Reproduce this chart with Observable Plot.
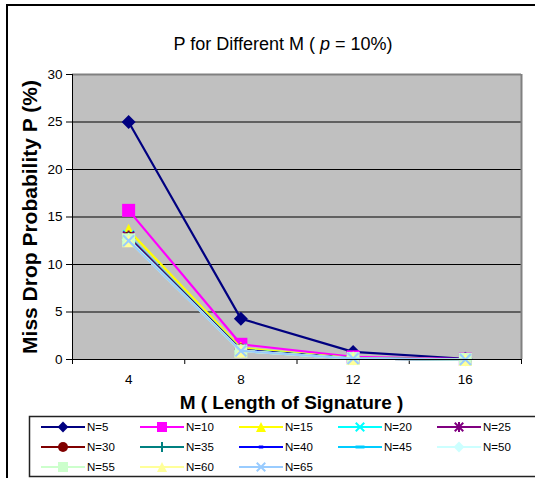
<!DOCTYPE html>
<html>
<head>
<meta charset="utf-8">
<script src="https://cdn.jsdelivr.net/npm/d3@7"></script>
<script src="https://cdn.jsdelivr.net/npm/@observablehq/plot@0.6"></script>
<style>
  html, body { margin: 0; padding: 0; background: #fff; }
  #wrap { position: relative; width: 535px; height: 478px; overflow: hidden; font-family: Arial, "Liberation Sans", sans-serif; }
  #border { position: absolute; left: 6px; top: 4px; width: 700px; height: 700px; border-left: 2px solid #000; border-top: 2px solid #000; }
  #title { position: absolute; left: 0; top: 34px; width: 566px; text-align: center; font-size: 18px; line-height: 20px; color: #000; }
  #chart { position: absolute; left: 0; top: 0; }
</style>
</head>
<body>
<div id="wrap">
  <div id="chart"></div>
  <div id="border"></div>
  <div id="title">P for Different M ( <i>p</i> = 10%)</div>
</div>
<script>
// ---- data ----
const M = [4, 8, 12, 16];
const seriesNames = ["N=5", "N=10", "N=15", "N=20", "N=25", "N=30", "N=35", "N=40", "N=45", "N=50", "N=55", "N=60", "N=65"];
const N5  = [25.0, 4.3, 0.8, 0.08];
const N10 = [15.7, 1.6, 0.28, 0.03];
const N15 = [13.6, 1.2, 0.15, 0.01];
const N20 = [13.0, 1.05, 0.12, 0.01];
const N25 = [12.9, 1.0, 0.1, 0.01];
const N30 = [12.8, 1.0, 0.1, 0.0];
const N35 = [12.7, 0.95, 0.1, 0.0];
const N40 = [12.7, 0.95, 0.1, 0.0];
const N45 = [12.6, 0.9, 0.1, 0.0];
const N50 = [12.6, 0.9, 0.1, 0.0];
const N55 = [12.6, 0.9, 0.1, 0.0];
const N60 = [12.5, 0.9, 0.1, 0.0];
const N65 = [12.5, 0.9, 0.1, 0.0];
const seriesValues = [N5, N10, N15, N20, N25, N30, N35, N40, N45, N50, N55, N60, N65];
const yTicks = [0, 5, 10, 15, 20, 25, 30];

// ---- styles ----
const colors = ["#000080", "#FF00FF", "#FFFF00", "#00FFFF", "#800080", "#800000", "#008080", "#0000FF", "#00CCFF", "#CCFFFF", "#CCFFCC", "#FFFF99", "#99CCFF"];
const markers = ["diamond", "square", "triangle", "x", "star", "circle", "plus", "dash", "longdash", "diamond", "square", "triangle", "x"];

const R = s => Math.sqrt(s / Math.PI);
const sym = {
  diamond: {filled: true, draw(c, s) { const h = R(s) * 1.08; c.moveTo(0, -h); c.lineTo(h, 0); c.lineTo(0, h); c.lineTo(-h, 0); c.closePath(); }},
  square: {filled: true, draw(c, s) { const h = R(s); c.rect(-h, -h, 2 * h, 2 * h); }},
  triangle: {filled: true, draw(c, s) { const h = R(s); c.moveTo(0, -h); c.lineTo(h, h); c.lineTo(-h, h); c.closePath(); }},
  circle: {filled: true, draw(c, s) { const h = R(s); c.moveTo(h, 0); c.arc(0, 0, h, 0, 2 * Math.PI); c.closePath(); }},
  dash: {filled: true, draw(c, s) { const h = R(s); c.rect(-h * 0.45, -h * 0.3, h * 0.9, h * 0.6); }},
  longdash: {filled: true, draw(c, s) { const h = R(s); c.rect(-h * 0.9, -h * 0.3, h * 1.8, h * 0.6); }},
  x: {filled: false, draw(c, s) { const h = R(s) * 0.85; c.moveTo(-h, -h); c.lineTo(h, h); c.moveTo(-h, h); c.lineTo(h, -h); }},
  plus: {filled: false, draw(c, s) { const h = R(s); c.moveTo(-h, 0); c.lineTo(h, 0); c.moveTo(0, -h); c.lineTo(0, h); }},
  star: {filled: false, draw(c, s) { const h = R(s) * 0.85; c.moveTo(-h, -h); c.lineTo(h, h); c.moveTo(-h, h); c.lineTo(h, -h); c.moveTo(0, -h * 1.15); c.lineTo(0, h * 1.15); }}
};

const rows = [];
seriesNames.forEach((name, i) => M.forEach((m, j) => rows.push({series: name, idx: i, M: m, P: seriesValues[i][j]})));

const seriesMarks = [];
seriesNames.forEach((name, i) => {
  const d = rows.filter(r => r.series === name);
  const s = sym[markers[i]];
  seriesMarks.push(Plot.line(d, {x: "M", y: "P", stroke: colors[i], strokeWidth: 2.2}));
  seriesMarks.push(Plot.dot(d, {x: "M", y: "P", symbol: s, r: 6.5,
    fill: s.filled ? colors[i] : "none", stroke: s.filled ? "none" : colors[i], strokeWidth: 2}));
});

const W = 535, H = 478;
const plot = Plot.plot({
  width: W, height: H,
  marginLeft: 72, marginRight: 14, marginTop: 74, marginBottom: H - 359,
  style: {fontFamily: "Arial, 'Liberation Sans', sans-serif", background: "transparent", color: "#000"},
  x: {type: "linear", domain: [2, 18]},
  y: {domain: [0, 30]},
  marks: [
    Plot.frame({fill: "#C0C0C0", stroke: null}),
    Plot.ruleY([5, 10, 15, 20, 25], {stroke: "#000", strokeWidth: 1}),
    Plot.ruleY([30], {stroke: "#808080", strokeWidth: 2}),
    Plot.ruleX([18], {stroke: "#808080", strokeWidth: 2}),
    Plot.axisY({ticks: yTicks, tickSize: 6, tickPadding: 4, fontSize: 13.5, label: null, stroke: "#000"}),
    Plot.axisX({ticks: [2, 6, 10, 14, 18], tickSize: 5, tickFormat: () => "", label: null, stroke: "#000"}),
    Plot.axisX({ticks: M, tickSize: 0, tickPadding: 15, fontSize: 13.5, label: null, tickFormat: d => String(d)}),
    Plot.text(["M ( Length of Signature )"], {frameAnchor: "bottom", lineAnchor: "bottom", textAnchor: "middle", dy: 49, dx: -5.5, fontSize: 19, fontWeight: "bold", text: d => d}),
    Plot.text(["Miss Drop Probability P (%)"], {frameAnchor: "left", lineAnchor: "bottom", textAnchor: "middle", rotate: -90, dx: -36, fontSize: 21, fontWeight: "bold", text: d => d}),
    ...seriesMarks,
    Plot.ruleY([0], {stroke: "#000", strokeWidth: 1}),
    Plot.ruleX([2], {stroke: "#000", strokeWidth: 1})
  ]
});
document.getElementById("chart").appendChild(plot);

// ---- legend (below the plot area) ----
const svg = d3.select(plot);
const lg = svg.append("g").attr("font-family", "Arial, 'Liberation Sans', sans-serif").attr("font-size", 11.5).attr("text-anchor", "start");
lg.append("rect").attr("x", 29.5).attr("y", 416.5).attr("width", 560).attr("height", 60)
  .attr("fill", "#fff").attr("stroke", "#222").attr("stroke-width", 1.5);
seriesNames.forEach((name, i) => {
  const col = i % 5, row = Math.floor(i / 5);
  const x0 = 41 + col * 99, y0 = 427 + row * 20;
  const s = sym[markers[i]];
  lg.append("line").attr("x1", x0).attr("x2", x0 + 44).attr("y1", y0).attr("y2", y0)
    .attr("stroke", colors[i]).attr("stroke-width", 2.2);
  lg.append("path").attr("transform", `translate(${x0 + 22},${y0})`)
    .attr("d", d3.symbol(s, Math.PI * 5 * 5)())
    .attr("fill", s.filled ? colors[i] : "none").attr("stroke", s.filled ? "none" : colors[i]).attr("stroke-width", 2);
  lg.append("text").attr("x", x0 + 46).attr("y", y0 + 4).attr("text-anchor", "start").attr("fill", "#000").text(name);
});
</script>
</body>
</html>
